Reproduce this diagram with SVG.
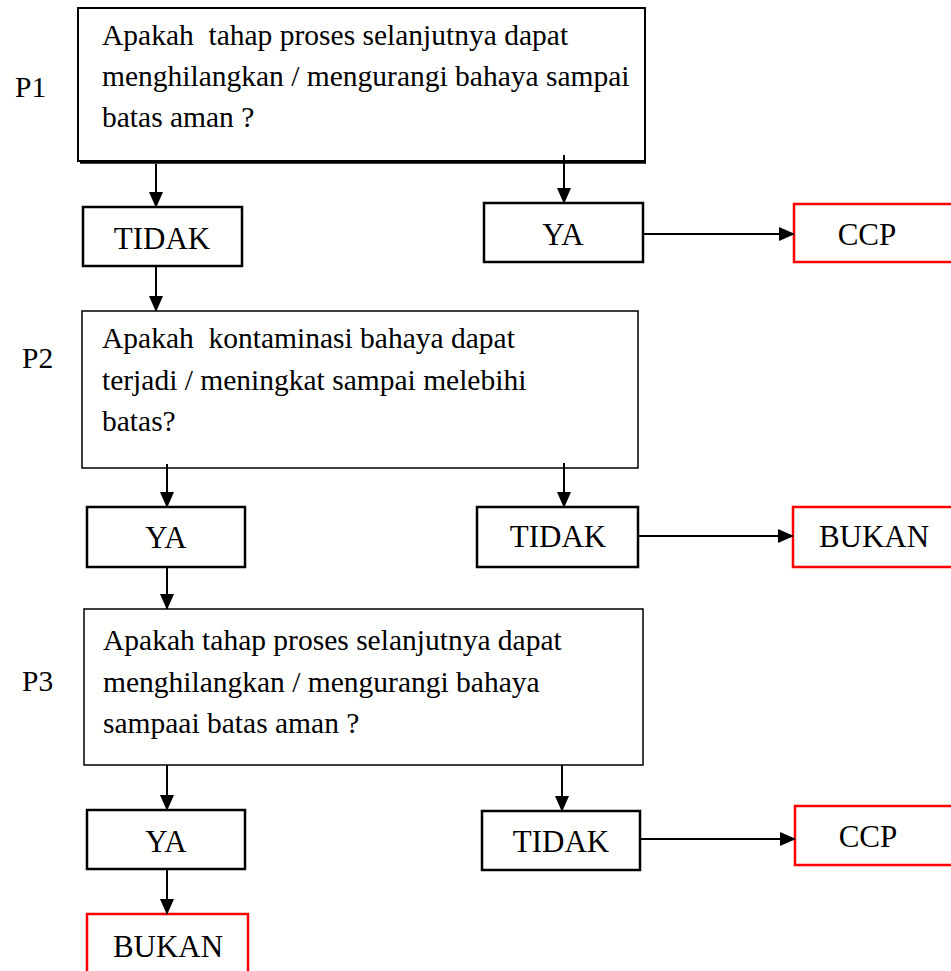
<svg xmlns="http://www.w3.org/2000/svg" width="951" height="971" viewBox="0 0 951 971">
<style>
  text { font-family: "Liberation Serif", Tinos, "Times New Roman", "DejaVu Serif", serif; fill: #000; }
  .para { font-size: 29.5px; }
  .lbl { font-size: 31px; text-anchor: middle; }
  .big { fill: #fff; stroke: #000; stroke-width: 1.5; }
  .box { fill: #fff; stroke: #000; stroke-width: 2.5; }
  .red { fill: #fff; stroke: #ff0000; stroke-width: 2.5; }
  .con { stroke: #000; stroke-width: 2; fill: none; marker-end: url(#ah); }
</style>
<defs>
  <marker id="ah" markerWidth="16" markerHeight="14" refX="15" refY="7" orient="auto" markerUnits="userSpaceOnUse">
    <path d="M0,0 L16,7 L0,14 Z" fill="#000"/>
  </marker>
</defs>

<g id="labels">
  <text class="para" x="15" y="97">P1</text>
  <text class="para" x="22" y="368">P2</text>
  <text class="para" x="22" y="691">P3</text>
</g>

<g id="q1">
  <rect class="big" x="78" y="8" width="567" height="153" style="stroke-width:2"/>
  <line x1="80" y1="162.5" x2="646" y2="162.5" stroke="#000" stroke-width="2.5"/>
  <text class="para" x="102" y="45" xml:space="preserve">Apakah  tahap proses selanjutnya dapat</text>
  <text class="para" x="102" y="86">menghilangkan / mengurangi bahaya sampai</text>
  <text class="para" x="102" y="127">batas aman ?</text>
</g>

<g id="n1-tidak">
  <rect class="box" x="83" y="207" width="159" height="59"/>
  <text class="lbl" x="162" y="249">TIDAK</text>
</g>
<g id="n1-ya">
  <rect class="box" x="484" y="203" width="159" height="59"/>
  <text class="lbl" x="563" y="245">YA</text>
</g>
<g id="n1-ccp">
  <rect class="red" x="794" y="204" width="160" height="58"/>
  <text class="lbl" x="867" y="245">CCP</text>
</g>

<g id="q2">
  <rect class="big" x="82" y="311" width="556" height="157"/>
  <text class="para" x="102" y="348" xml:space="preserve">Apakah  kontaminasi bahaya dapat</text>
  <text class="para" x="102" y="390">terjadi / meningkat sampai melebihi</text>
  <text class="para" x="102" y="431">batas?</text>
</g>

<g id="n2-ya">
  <rect class="box" x="87" y="507" width="158" height="60"/>
  <text class="lbl" x="166" y="548">YA</text>
</g>
<g id="n2-tidak">
  <rect class="box" x="477" y="507" width="161" height="60"/>
  <text class="lbl" x="558" y="547">TIDAK</text>
</g>
<g id="n2-bukan">
  <rect class="red" x="793" y="507" width="161" height="60"/>
  <text class="lbl" x="874" y="547">BUKAN</text>
</g>

<g id="q3">
  <rect class="big" x="84" y="609" width="559" height="156"/>
  <text class="para" x="103" y="650">Apakah tahap proses selanjutnya dapat</text>
  <text class="para" x="103" y="692">menghilangkan / mengurangi bahaya</text>
  <text class="para" x="103" y="733">sampaai batas aman ?</text>
</g>

<g id="n3-ya">
  <rect class="box" x="87" y="810" width="158" height="59"/>
  <text class="lbl" x="166" y="852">YA</text>
</g>
<g id="n3-tidak">
  <rect class="box" x="482" y="811" width="158" height="59"/>
  <text class="lbl" x="561" y="852">TIDAK</text>
</g>
<g id="n3-ccp">
  <rect class="red" x="795" y="806" width="159" height="59"/>
  <text class="lbl" x="868" y="847">CCP</text>
</g>
<g id="n3-bukan">
  <rect class="red" x="87" y="914" width="161" height="62"/>
  <text class="lbl" x="168" y="957">BUKAN</text>
</g>

<g id="connectors">
  <line class="con" x1="156" y1="164" x2="156" y2="207"/>
  <line class="con" x1="564" y1="155" x2="564" y2="203"/>
  <line class="con" x1="643" y1="234" x2="794" y2="234"/>
  <line class="con" x1="156" y1="266" x2="156" y2="311"/>
  <line class="con" x1="167" y1="464" x2="167" y2="507"/>
  <line class="con" x1="564" y1="463" x2="564" y2="507"/>
  <line class="con" x1="638" y1="536" x2="793" y2="536"/>
  <line class="con" x1="167" y1="567" x2="167" y2="609"/>
  <line class="con" x1="167" y1="765" x2="167" y2="810"/>
  <line class="con" x1="562" y1="765" x2="562" y2="811"/>
  <line class="con" x1="640" y1="839" x2="795" y2="839"/>
  <line class="con" x1="167" y1="869" x2="167" y2="914"/>
</g>
</svg>
